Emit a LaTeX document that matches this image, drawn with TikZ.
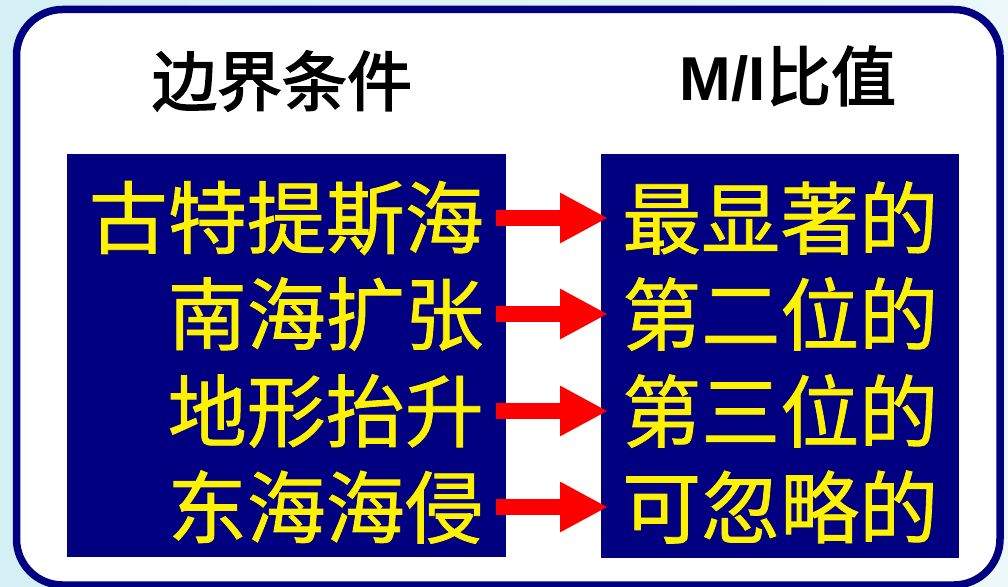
\documentclass[tikz,border=0pt]{standalone}
\usepackage{fontspec}
\usetikzlibrary{arrows.meta}
\newfontfamily\cjk{Noto Sans CJK SC}[FakeBold=1]
\newfontfamily\cjkh{Noto Sans CJK SC}[FakeBold=2.5]
\newfontfamily\latinb{Liberation Sans}
\definecolor{navy}{RGB}{0,0,128}
\definecolor{bgl}{RGB}{212,240,245}
\definecolor{bgr}{RGB}{236,248,250}
\tikzset{
  panel/.style={fill=navy, draw=none, inner sep=0pt},
  lefttxt/.style={anchor=east, inner sep=0pt, text=yellow, font=\cjk\fontsize{79}{81}\selectfont},
  righttxt/.style={anchor=west, inner sep=0pt, text=yellow, font=\cjk\fontsize{79}{81}\selectfont},
  heading/.style={inner sep=0pt, text=black},
  redarrow/.style={draw=red, line width=16pt, -{Triangle[length=48pt,width=47pt]}}
}
\begin{document}
\begin{tikzpicture}[x=1pt,y=-1pt]
\useasboundingbox (0,0) rectangle (1008,586);
\shade[left color=bgl, right color=bgr] (0,0) rectangle (1008,586);
\path[fill=white, draw=navy, line width=7.5pt, rounded corners=46pt] (16.5,9.5) rectangle (1000,585);
% headings
\node[heading, font=\cjkh\fontsize{65}{67}\selectfont] (h1) at (282,81) {边界条件};
\node[heading] (h2) at (788,76) {{\latinb\bfseries\fontsize{62}{64}\selectfont M/I}{\cjkh\fontsize{65}{67}\selectfont 比值}};
% panels
\node[panel, minimum width=439pt, minimum height=403pt] (lp) at (286.5,355.5) {};
\node[panel, minimum width=358pt, minimum height=404pt] (rp) at (780,356) {};
% texts
\node[lefttxt] (l1) at (484,218) {古特提斯海};
\node[lefttxt] (l2) at (484,314) {南海扩张};
\node[lefttxt] (l3) at (484,411) {地形抬升};
\node[lefttxt] (l4) at (484,507) {东海海侵};
\node[righttxt] (r1) at (622,218) {最显著的};
\node[righttxt] (r2) at (622,314) {第二位的};
\node[righttxt] (r3) at (622,411) {第三位的};
\node[righttxt] (r4) at (622,507) {可忽略的};
% arrows
\foreach \i in {1,2,3,4}{
  \draw[redarrow] ([xshift=12pt]l\i.east) -- ([xshift=-14pt]r\i.west);
}
\end{tikzpicture}
\end{document}
